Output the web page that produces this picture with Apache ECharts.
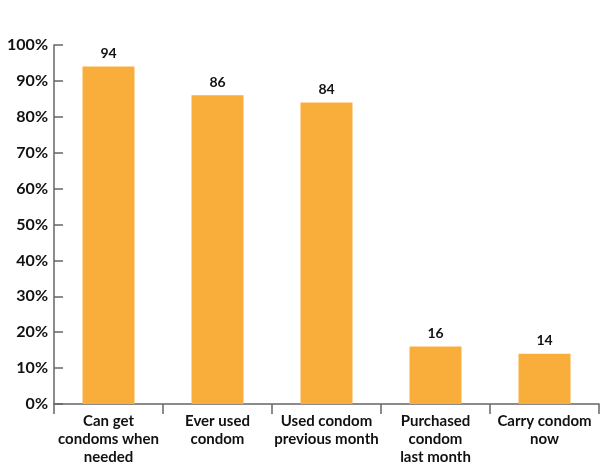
<!DOCTYPE html>
<html><head><meta charset="utf-8">
<script src="https://cdn.jsdelivr.net/npm/echarts@6/dist/echarts.min.js"></script>
<style>html,body{margin:0;padding:0;background:#fff}#c{width:600px;height:467px}</style>
</head><body><div id="c"></div>
<script>
const categories = ['Can get\ncondoms when\nneeded', 'Ever used\ncondom', 'Used condom\nprevious month', 'Purchased\ncondom\nlast month', 'Carry condom\nnow'];
const values = [94, 86, 84, 16, 14];
const yTicks = [0, 10, 20, 30, 40, 50, 60, 70, 80, 90, 100];

const chart = echarts.init(document.getElementById('c'));
chart.setOption({
  animation: false,
  grid: { left: 54, right: 1, top: 45, bottom: 63 },
  xAxis: {
    type: 'category', data: categories,
    axisLine: { lineStyle: { color: '#666', width: 1.5 } },
    axisTick: { show: true, length: 10, lineStyle: { color: '#666', width: 1.5 } },
    axisLabel: { color: '#111', fontFamily: 'Lato', fontWeight: 'bold', fontSize: 15, lineHeight: 18, margin: 8, interval: 0 }
  },
  yAxis: {
    type: 'value', min: 0, max: 100, interval: 10,
    axisLine: { show: true, lineStyle: { color: '#666', width: 1.5 } },
    axisTick: { show: true, inside: true, length: 9, lineStyle: { color: '#666', width: 1.5 } },
    splitLine: { show: false },
    axisLabel: { color: '#111', fontFamily: 'Lato', fontWeight: 'bold', fontSize: 16, margin: 6,
      formatter: v => yTicks.includes(v) ? v + '%' : '' }
  },
  series: [{
    type: 'bar', data: values, barWidth: 52,
    itemStyle: { color: '#F9AE3B' },
    label: { show: true, position: 'top', distance: 6, color: '#111', fontFamily: 'Lato', fontWeight: 'bold', fontSize: 14 }
  }]
});
</script></body></html>
